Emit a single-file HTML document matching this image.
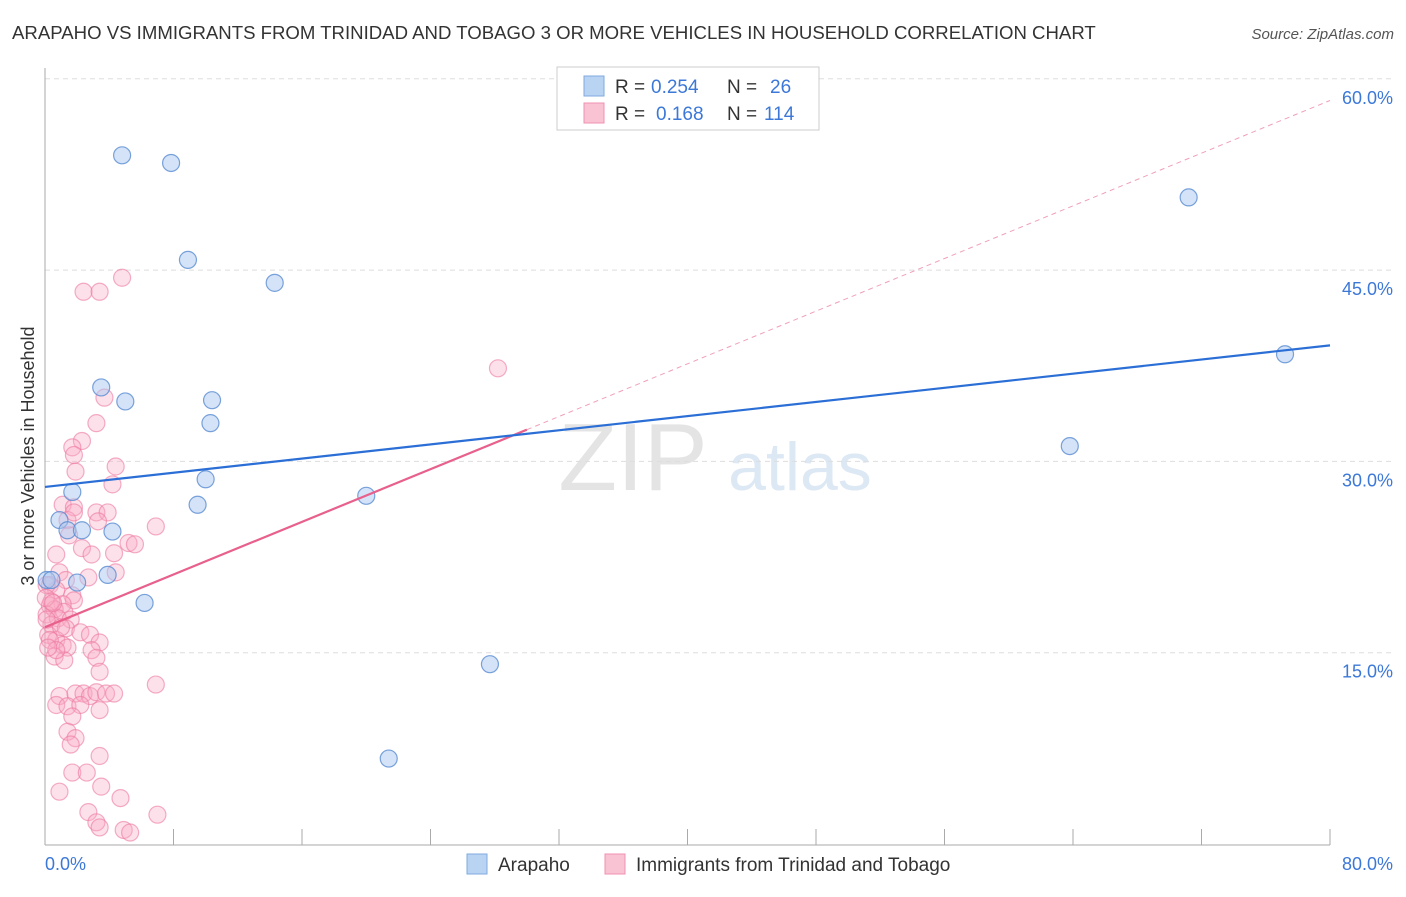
<!DOCTYPE html>
<html><head><meta charset="utf-8"><style>
body{margin:0;background:#fff;font-family:"Liberation Sans",sans-serif;}
svg text{font-family:"Liberation Sans",sans-serif;}
</style></head><body>
<svg id="chart" width="1406" height="892">
<text x="12" y="39" font-size="18.6" fill="#333">ARAPAHO VS IMMIGRANTS FROM TRINIDAD AND TOBAGO 3 OR MORE VEHICLES IN HOUSEHOLD CORRELATION CHART</text>
<text x="1394" y="39" font-size="15" fill="#555" text-anchor="end" font-style="italic">Source: ZipAtlas.com</text>
<text transform="translate(34,456) rotate(-90)" font-size="18" fill="#333" text-anchor="middle">3 or more Vehicles in Household</text>
<g><text x="633" y="490" font-size="96" font-family="Liberation Serif" fill="#e4e4e4" text-anchor="middle">ZIP</text><text x="800" y="490" font-size="68" fill="#dde8f5" text-anchor="middle">atlas</text></g>
<g id="grid"></g><g id="axes"></g><g id="lines"></g><g id="pts"></g>
<g>
<rect x="557" y="67" width="262" height="63" fill="#fff" stroke="#ccc"/>
<rect x="584" y="76" width="20" height="20" fill="#b9d3f3" stroke="#7fa8df"/>
<rect x="584" y="103" width="20" height="20" fill="#f9c3d3" stroke="#f090b0"/>
<text y="93" font-size="19" fill="#333"><tspan x="615">R =</tspan><tspan x="651" fill="#3c78d8">0.254</tspan><tspan x="727">N =</tspan><tspan x="770" fill="#3c78d8">26</tspan></text>
<text y="120" font-size="19" fill="#333"><tspan x="615">R =</tspan><tspan x="656" fill="#3c78d8">0.168</tspan><tspan x="727">N =</tspan><tspan x="764" fill="#3c78d8">114</tspan></text>
</g>
<g>
<rect x="467" y="854" width="20" height="20" fill="#b9d3f3" stroke="#7fa8df"/>
<text x="498" y="871" font-size="19" fill="#333">Arapaho</text>
<rect x="605" y="854" width="20" height="20" fill="#f9c3d3" stroke="#f090b0"/>
<text x="636" y="871" font-size="19" fill="#333">Immigrants from Trinidad and Tobago</text>
</g>
</svg>
<script>
const yTicks=[15,30,45,60];
const xTickLabels=["0.0%","80.0%"];
const blueX=[4.8,7.85,8.9,14.3,3.5,5.0,10.4,10.3,10.0,9.5,1.7,0.9,1.4,2.3,4.2,0.1,0.4,2.0,3.9,6.2,20.0,27.7,21.4,71.2,77.2,63.8];
const blueY=[54.0,53.4,45.8,44.0,35.8,34.7,34.8,33.0,28.6,26.6,27.6,25.4,24.6,24.6,24.5,20.7,20.7,20.5,21.1,18.9,27.3,14.1,6.7,50.7,38.4,31.2];
const pinkX=[4.8,2.4,3.4,28.2,3.7,3.2,2.3,1.7,1.8,4.4,1.9,4.2,1.1,1.8,3.2,3.9,1.4,3.3,1.5,6.9,5.2,5.6,2.3,2.9,4.3,0.7,4.4,2.7,0.9,1.3,0.3,0.7,1.7,1.8,1.1,0.3,0.6,1.2,0.1,0.8,1.6,0.4,1.3,2.2,2.8,3.4,0.2,0.7,1.1,1.4,2.9,0.6,1.2,3.2,3.4,0.9,1.9,2.4,2.8,3.2,3.8,4.3,6.9,0.7,1.4,2.2,3.4,1.7,1.4,1.9,1.6,3.4,1.7,2.6,3.5,0.9,4.7,2.7,3.2,3.4,4.9,5.3,7.0,0.1,0.4,0.1,0.3,0.7,0.05,1.0,0.5,1.8,0.2];
const pinkY=[44.4,43.3,43.3,37.3,35.0,33.0,31.6,31.1,30.5,29.6,29.2,28.2,26.6,26.4,26.0,26.0,25.4,25.3,24.2,24.9,23.6,23.5,23.2,22.7,22.8,22.7,21.3,20.9,21.3,20.7,20.3,19.9,19.5,19.1,18.8,18.7,18.4,18.2,18.0,17.7,17.6,17.2,16.9,16.6,16.4,15.8,16.4,16.0,15.6,15.4,15.2,14.7,14.4,14.6,13.5,11.6,11.8,11.8,11.6,11.9,11.8,11.8,12.5,10.9,10.8,10.9,10.5,10.0,8.8,8.3,7.8,6.9,5.6,5.6,4.5,4.1,3.6,2.5,1.7,1.3,1.1,0.9,2.3,20.3,19.0,17.6,16.0,15.2,19.3,17.0,18.9,26.0,15.4];
const blueFit=[28.0,39.1]; // y at x=0 and x=80
const pinkFit=[17.0,58.3]; // y at x=0 and x=80; solid until 30
const NS="http://www.w3.org/2000/svg";
const X=v=>45+v/80*1285, Y=v=>844-v*191.3/15;
function mk(tag,attrs,parent){const e=document.createElementNS(NS,tag);for(const k in attrs)e.setAttribute(k,attrs[k]);document.getElementById(parent).appendChild(e);return e;}
yTicks.forEach(t=>{
 const l=mk('line',{x1:45,x2:1394,y1:Y(t),y2:Y(t),stroke:'#ddd','stroke-dasharray':'5,4'},'grid');
 
 
 const tx=mk('text',{x:1393,y:Y(t)+25,'font-size':18,fill:'#3c78d8','text-anchor':'end'},'grid');
 tx.textContent=t.toFixed(1)+'%';
 
 
});
const ax=mk('line',{x1:45,x2:1330,y1:845,y2:845,stroke:'#aaa'},'axes');


const ay=mk('line',{x1:45,x2:45,y1:68,y2:845,stroke:'#aaa'},'axes');


for(let i=0;i<=10;i++){mk('line',{x1:X(i*8),x2:X(i*8),y1:829,y2:845,stroke:'#aaa'},'axes');}
const xl0=mk('text',{x:45,y:870,'font-size':18,fill:'#3c78d8'},'axes');xl0.textContent=xTickLabels[0];


const xl1=mk('text',{x:1393,y:870,'font-size':18,fill:'#3c78d8','text-anchor':'end'},'axes');xl1.textContent=xTickLabels[1];


const pf=x=>pinkFit[0]+(pinkFit[1]-pinkFit[0])*x/80;
const pd=mk('line',{x1:X(30),y1:Y(pf(30)),x2:X(80),y2:Y(pf(80)),stroke:'#f0a0b8','stroke-dasharray':'5,4','stroke-width':1},'lines');


pinkX.forEach((x,i)=>{const c=mk('circle',{cx:X(x),cy:Y(pinkY[i]),r:8.5,fill:'rgba(248,170,195,0.35)',stroke:'rgba(236,120,160,0.6)','stroke-width':1.2},'pts');
 
 });
blueX.forEach((x,i)=>{const c=mk('circle',{cx:X(x),cy:Y(blueY[i]),r:8.5,fill:'rgba(170,200,240,0.5)',stroke:'rgba(90,140,210,0.8)','stroke-width':1.2},'pts');
 
 });
const ps=mk('line',{x1:X(0),y1:Y(pf(0)),x2:X(30),y2:Y(pf(30)),stroke:'#e8608c','stroke-width':2.2},'pts');


const bl=mk('line',{x1:X(0),y1:Y(blueFit[0]),x2:X(80),y2:Y(blueFit[1]),stroke:'#2b6fd6','stroke-width':2.2},'pts');


</script>
</body></html>
